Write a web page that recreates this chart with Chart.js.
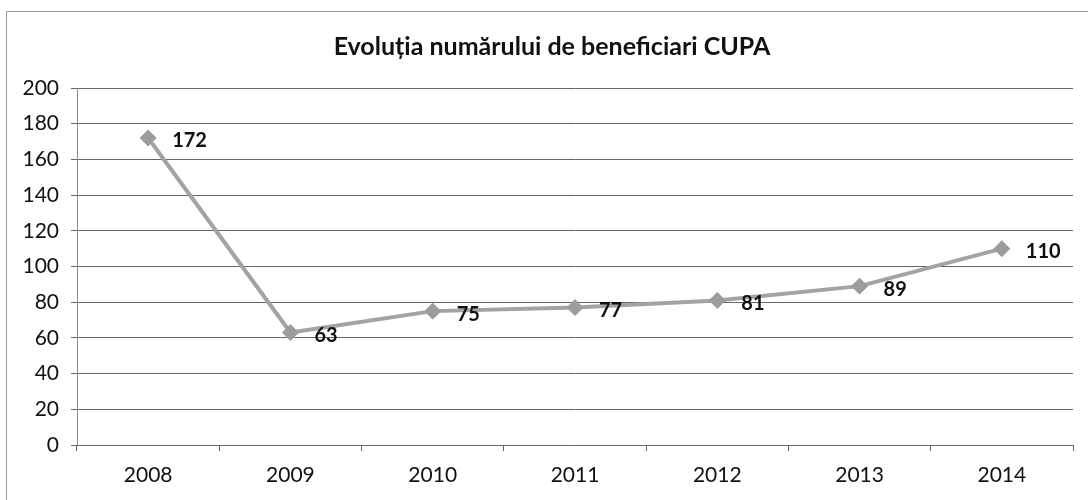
<!DOCTYPE html>
<html>
<head>
<meta charset="utf-8">
<script src="https://cdn.jsdelivr.net/npm/chart.js@4"></script>
<style>
	html, body { margin: 0; padding: 0; background: #fff; }
	#wrap { width: 1088px; height: 500px; }
</style>
</head>
<body>
<div id="wrap"><canvas id="chart"></canvas></div>
<script>
// ani și număr de beneficiari
const years = ['2008', '2009', '2010', '2011', '2012', '2013', '2014'];
const beneficiari = [172, 63, 75, 77, 81, 89, 110];
const yTicks = [0, 20, 40, 60, 80, 100, 120, 140, 160, 180, 200];

const FONT = 'Lato, "Open Sans", sans-serif';

// rama subțire din stânga și de sus
const frameBorder = {
	id: 'frameBorder',
	beforeDraw(chart) {
		const { ctx } = chart;
		ctx.save();
		ctx.strokeStyle = '#9a9a9a';
		ctx.lineWidth = 1;
		ctx.beginPath();
		ctx.moveTo(6.5, chart.height);
		ctx.lineTo(6.5, 11.5);
		ctx.lineTo(chart.width, 11.5);
		ctx.stroke();
		ctx.restore();
	},
};

// etichete cu valori, la dreapta fiecărui punct
const valueLabels = {
	id: 'valueLabels',
	afterDatasetsDraw(chart) {
		const { ctx } = chart;
		const meta = chart.getDatasetMeta(0);
		ctx.save();
		ctx.fillStyle = '#111';
		ctx.font = 'bold 20px ' + FONT;
		ctx.textAlign = 'left';
		ctx.textBaseline = 'middle';
		meta.data.forEach((pt, i) => {
			ctx.fillText(String(beneficiari[i]), pt.x + 24, pt.y + 3);
		});
		ctx.restore();
	},
};

new Chart(document.getElementById('chart'), {
	type: 'line',
	data: {
		labels: years,
		datasets: [
			{
				data: beneficiari,
				borderColor: '#a3a3a3',
				borderWidth: 4,
				pointStyle: 'rectRot',
				pointRadius: 8,
				pointBackgroundColor: '#9c9c9c',
				pointBorderColor: '#9c9c9c',
				pointBorderWidth: 1,
				tension: 0,
			},
		],
	},
	options: {
		responsive: true,
		maintainAspectRatio: false,
		animation: false,
		layout: { padding: { left: 16, right: 0, top: 0, bottom: 0 } },
		plugins: {
			legend: { display: false },
			tooltip: { enabled: false },
			title: {
				display: true,
				text: 'Evoluția numărului de beneficiari CUPA',
				color: '#111',
				font: { family: FONT, size: 25, weight: 'bold' },
				padding: { top: 32, bottom: 26 },
			},
		},
		scales: {
			y: {
				min: 0,
				max: 200,
				afterBuildTicks: (scale) => {
					scale.ticks = yTicks.map((v) => ({ value: v }));
				},
				afterFit: (scale) => {
					scale.width = 61;
				},
				border: { display: true, color: '#8a8a8a', width: 1 },
				grid: {
					color: '#666',
					lineWidth: 1,
					drawTicks: true,
					tickLength: 6,
				},
				ticks: {
					color: '#111',
					font: { family: FONT, size: 21 },
					padding: 12,
				},
			},
			// axă goală în dreapta, doar pentru spațiul liber de lângă grafic
			yRight: {
				position: 'right',
				display: true,
				grid: { display: false },
				border: { display: false },
				ticks: { display: false },
				afterFit: (scale) => {
					scale.width = 15;
				},
			},
			x: {
				offset: true,
				afterFit: (scale) => {
					scale.height = 55;
				},
				border: { display: true, color: '#666', width: 1 },
				grid: {
					offset: true,
					drawOnChartArea: false,
					drawTicks: true,
					tickLength: 6,
					color: '#666',
				},
				ticks: {
					color: '#111',
					font: { family: FONT, size: 21 },
					padding: 12,
				},
			},
		},
	},
	plugins: [frameBorder, valueLabels],
});
</script>
</body>
</html>
